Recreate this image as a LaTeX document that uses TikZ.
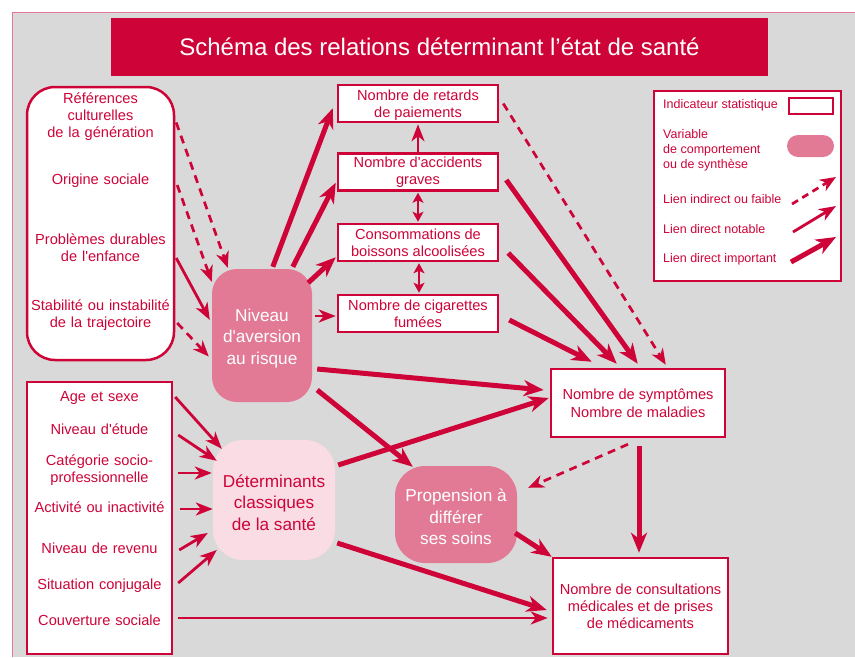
\documentclass[tikz,border=0pt]{standalone}
\usepackage{fontspec}
\setmainfont{Liberation Sans}
\usetikzlibrary{arrows.meta,calc}
\definecolor{rd}{RGB}{206,4,56}
\definecolor{pk}{RGB}{226,122,150}
\definecolor{lpk}{RGB}{249,220,228}
\definecolor{bgc}{RGB}{217,217,217}
\definecolor{framec}{RGB}{228,120,150}
\newcommand\mainsz{\fontsize{14.6}{17}\selectfont}
\newcommand\bigsz{\fontsize{17.2}{21.3}\selectfont}
\newcommand\legsz{\fontsize{12.5}{15}\selectfont}
\begin{document}
\begin{tikzpicture}[x=1pt,y=-1pt,
  box/.style={draw=rd, line width=2.5pt, fill=white, inner sep=0pt, text=rd, align=center, font=\mainsz},
  item/.style={text=rd, font=\mainsz, align=center, inner sep=0pt, text width=#1},
  item/.default=147pt,
  blob/.style={fill=pk, inner sep=0pt},
  btxt/.style={inner sep=0pt, text=white, align=center, font=\bigsz},
  imp/.style={draw=rd, line width=5pt, -{Stealth[length=20pt,width=16pt,inset=6pt]}},
  nota/.style={draw=rd, line width=2.8pt, -{Stealth[length=17pt,width=13pt,inset=5pt]}},
  faib/.style={draw=rd, line width=2.7pt, dash pattern=on 8pt off 6pt, -{Stealth[length=16pt,width=13pt,inset=5pt]}},
  dbl/.style={draw=rd, line width=2.5pt, {Stealth[length=10pt,width=11pt,inset=2.5pt]}-{Stealth[length=10pt,width=11pt,inset=2.5pt]}},
  legtxt/.style={text=rd, font=\legsz, align=left, inner sep=0pt, anchor=west}
]
\useasboundingbox (0,0) rectangle (855,657);
\fill[white] (0,0) rectangle (855,657);
\fill[bgc] (12,12) rectangle (855,657);
\draw[framec, line width=1pt] (855,12) -- (12,12) -- (12,657);

% title
\node[fill=rd, minimum width=657pt, minimum height=58pt, inner sep=0pt, text=white,
  font=\fontsize{24}{28}\selectfont] (title) at (439.5,47) {Schéma des relations déterminant l’état de santé};

% left top box
\node[box, rounded corners=28pt, minimum width=147pt, minimum height=273pt] (facteurs) at (100.5,223.5) {};
\node[item] (ref) at (100.5,116.5) {Références\\culturelles\\de la génération};
\node[item] (orig) at (100.5,181) {Origine sociale};
\node[item] (prob) at (100.5,247.5) {Problèmes durables\\de l\textquotesingle enfance};
\node[item] (stab) at (100.5,315.5) {Stabilité ou instabilité\\de la trajectoire};

% left bottom box
\node[box, minimum width=145pt, minimum height=272pt] (determs) at (99.5,518) {};
\node[item=145pt] (age) at (99.5,398) {Age et sexe};
\node[item=145pt] (etude) at (99.5,429.5) {Niveau d\textquotesingle étude};
\node[item=145pt] (cat) at (99.5,470.5) {Catégorie socio-\\professionnelle};
\node[item=145pt] (act) at (99.5,507.5) {Activité ou inactivité};
\node[item=145pt] (rev) at (99.5,548) {Niveau de revenu};
\node[item=145pt] (sit) at (99.5,585.5) {Situation conjugale};
\node[item=145pt] (couv) at (99.5,620.5) {Couverture sociale};

% blobs
\node[blob, rounded corners=25pt, minimum width=100pt, minimum height=133pt] (niveau) at (262,335.5) {};
\node[btxt] (niveaut) at (262,338.5) {Niveau\\d\textquotesingle aversion\\au risque};
\node[blob, fill=lpk, rounded corners=30pt, minimum width=122pt, minimum height=120pt] (determ) at (274,500) {};
\node[btxt, text=rd] (determt) at (274,502.5) {Déterminants\\classiques\\de la santé};
\node[blob, rounded corners=30pt, minimum width=122pt, minimum height=97pt] (prop) at (456,514.5) {};
\node[btxt] (propt) at (456,517) {Propension à\\différer\\ses soins};

% indicator boxes
\node[box, minimum width=160pt, minimum height=37pt] (retards) at (418,103.5) {\rule{0pt}{15pt}Nombre de retards\\de paiements};
\node[box, minimum width=160pt, minimum height=37pt] (accidents) at (418,172) {Nombre d\textquotesingle accidents\\graves};
\node[box, minimum width=160pt, minimum height=37pt] (conso) at (418,242.5) {Consommations de\\boissons alcoolisées};
\node[box, minimum width=160pt, minimum height=37pt] (cig) at (418,313.5) {Nombre de cigarettes\\fumées};
\node[box, minimum width=174pt, minimum height=68pt, font=\fontsize{14.6}{18.5}\selectfont] (sympt) at (638,403) {Nombre de symptômes\\Nombre de maladies};
\node[box, minimum width=175pt, minimum height=96pt] (consult) at (640.5,606) {Nombre de consultations\\médicales et de prises\\de médicaments};

% arrows into niveau
\draw[faib] ([shift={(2,6)}]ref.east) -- ([shift={(16,-1)}]niveau.north west);
\draw[faib] ([shift={(3,4)}]orig.east) -- ([shift={(0,13)}]niveau.north west);
\draw[nota] ([shift={(2,10.5)}]prob.east) -- ([shift={(-2,-15.5)}]niveau.west);
\draw[faib] ([shift={(3,7.5)}]stab.east) -- ([shift={(-3,21)}]niveau.west);

% niveau out
\draw[imp] ([shift={(61,-2)}]niveau.north west) -- ([shift={(-4,-15)}]retards.south west);
\draw[imp] ([shift={(81,-2)}]niveau.north west) -- ([shift={(-1,-9)}]accidents.south west);
\draw[imp] ([shift={(-4,14)}]niveau.north east) -- ([shift={(-1,-5)}]conso.south west);
\draw[nota] ([shift={(3,-19.5)}]niveau.east) -- ([shift={(-1,2.5)}]cig.west);

% between indicator boxes
\draw[nota] (accidents.north) -- ([shift={(0,1)}]retards.south);
\draw[dbl] ([shift={(0,1)}]accidents.south) -- ([shift={(0,-1)}]conso.north);
\draw[dbl] ([shift={(1,1)}]conso.south) -- ([shift={(1,-1)}]cig.north);

% into symptomes
\draw[faib] ([shift={(4,0)}]retards.east) -- ([shift={(116,-3)}]sympt.north west);
\draw[imp] ([shift={(7,8)}]accidents.east) -- ([shift={(88,-4)}]sympt.north west);
\draw[imp] ([shift={(9,10.5)}]conso.east) -- ([shift={(67,-4)}]sympt.north west);
\draw[imp] ([shift={(10,6.5)}]cig.east) -- ([shift={(42,-6)}]sympt.north west);
\draw[imp] ([shift={(5,33.5)}]niveau.east) -- ([shift={(-6,-13)}]sympt.west);
\draw[imp] ([shift={(3,-35)}]determ.east) -- ([shift={(-1,-5)}]sympt.west);

% propension
\draw[imp] ([shift={(5,54.5)}]niveau.east) -- ([shift={(18,1)}]prop.north west);
\draw[faib] ([shift={(-10,6)}]sympt.south) -- ([shift={(11,22)}]prop.north east);

% into consultations
\draw[imp] ([shift={(-2,18.5)}]prop.east) -- (consult.north west);
\draw[imp] ([shift={(1,8)}]sympt.south) -- ([shift={(-1.5,-4)}]consult.north);
\draw[imp] ([shift={(2,43)}]determ.east) -- ([shift={(-5,4)}]consult.west);
\draw[nota] ([shift={(6,-2.5)}]couv.east) -- ([shift={(-4,12)}]consult.west);

% into determinants
\draw[nota] ([shift={(3,-1)}]age.east) -- ([shift={(9,9)}]determ.north west);
\draw[nota] ([shift={(6,5.5)}]etude.east) -- ([shift={(4,21)}]determ.north west);
\draw[nota] ([shift={(6,2.5)}]cat.east) -- ([shift={(-1,-27)}]determ.west);
\draw[nota] ([shift={(8,1.5)}]act.east) -- ([shift={(0,9)}]determ.west);
\draw[nota] ([shift={(7,2)}]rev.east) -- ([shift={(-5,33)}]determ.west);
\draw[nota] ([shift={(6,-2.5)}]sit.east) -- ([shift={(4,50)}]determ.west);

% legend
\node[draw=rd, line width=2.5pt, fill=white, minimum width=187pt, minimum height=190pt, inner sep=0pt] (legende) at (747.5,186) {};
\node[legtxt] (l1) at (663,105.5) {Indicateur statistique};
\node[legtxt] (l2) at (663,150.5) {Variable\\de comportement\\ou de synthèse};
\node[legtxt] (l3) at (663,199) {Lien indirect ou faible};
\node[legtxt] (l4) at (663,229) {Lien direct notable};
\node[legtxt] (l5) at (663,259.5) {Lien direct important};
\node[draw=rd, line width=2pt, fill=white, minimum width=44pt, minimum height=16pt, inner sep=0pt] (lrect) at (811,106) {};
\node[fill=pk, rounded corners=11pt, minimum width=47pt, minimum height=22pt, inner sep=0pt] (lpill) at (810.5,146) {};
\coordinate (la1) at (792,204); \coordinate (lb1) at (836,177);
\coordinate (la2) at (793,232); \coordinate (lb2) at (836,206);
\coordinate (la3) at (791,262); \coordinate (lb3) at (836,237);
\draw[faib, dash pattern=on 7pt off 5pt] (la1) -- (lb1);
\draw[nota] (la2) -- (lb2);
\draw[imp] (la3) -- (lb3);
\end{tikzpicture}
\end{document}
